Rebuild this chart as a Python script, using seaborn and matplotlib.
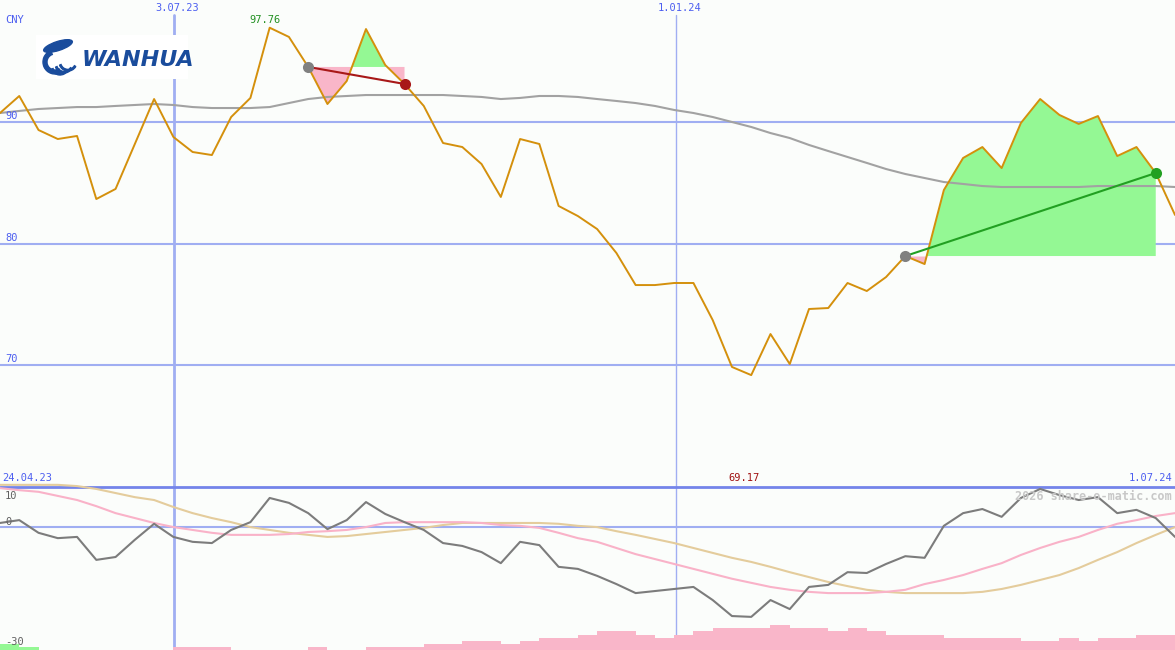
import matplotlib as mpl
mpl.use('Agg')
import matplotlib.pyplot as plt
import matplotlib.patches as mpatches
import numpy as np
import seaborn as sns

sns.set_style("white")
plt.rcParams['font.family'] = ['DejaVu Sans']

########## DATA ##########
# weekly closes, CNY
price = [90.74, 92.14, 89.34, 88.60, 88.85, 83.66, 84.49, 88.19, 91.89, 88.77,
         87.53, 87.28, 90.41, 91.98, 97.76, 97.00, 94.53, 91.48, 93.37, 97.65,
         94.69, 93.13, 91.32, 88.27, 87.94, 86.54, 83.83, 88.60, 88.19, 83.09,
         82.26, 81.19, 79.22, 76.58, 76.58, 76.75, 76.75, 73.70, 69.84, 69.17,
         72.55, 70.08, 74.61, 74.69, 76.75, 76.09, 77.24, 78.97, 78.31, 84.40,
         87.04, 87.94, 86.21, 89.92, 91.89, 90.58, 89.84, 90.49, 87.20, 87.94,
         85.80, 82.35]
# long moving average (grey)
ma_long = [90.74, 90.91, 91.07, 91.15, 91.23, 91.23, 91.32, 91.40, 91.48, 91.40,
           91.23, 91.15, 91.15, 91.15, 91.23, 91.56, 91.89, 92.06, 92.14, 92.22,
           92.22, 92.22, 92.22, 92.22, 92.14, 92.06, 91.89, 91.98, 92.14, 92.14,
           92.06, 91.89, 91.73, 91.56, 91.32, 90.99, 90.74, 90.41, 90.00, 89.59,
           89.09, 88.68, 88.11, 87.61, 87.12, 86.63, 86.13, 85.72, 85.39, 85.06,
           84.90, 84.73, 84.65, 84.65, 84.65, 84.65, 84.65, 84.73, 84.73, 84.73,
           84.73, 84.65]
# lower panel: relative strength (dark grey), and two smoothings
rel_strength = [1.1, 1.8, -1.3, -2.6, -2.3, -7.9, -7.2, -3.0, 0.9, -2.3,
                -3.5, -3.8, -0.6, 1.3, 7.2, 6.0, 3.5, -0.4, 1.8, 6.2,
                3.3, 1.3, -0.6, -3.8, -4.5, -6.0, -8.7, -3.5, -4.3, -9.6,
                -10.1, -11.8, -13.8, -16.0, -15.5, -15.0, -14.5, -17.7, -21.6, -21.8,
                -17.7, -19.9, -14.5, -14.0, -10.9, -11.1, -8.9, -7.0, -7.4, 0.4,
                3.5, 4.5, 2.6, 7.2, 9.4, 7.9, 6.7, 7.4, 3.5, 4.3,
                2.3, -2.3]
rs_fast = [9.6, 9.1, 8.7, 7.7, 6.7, 5.2, 3.5, 2.3, 1.1, 0.1,
           -0.6, -1.3, -1.8, -1.8, -1.8, -1.6, -1.1, -0.9, -0.6, 0.1,
           1.1, 1.3, 1.3, 1.3, 1.3, 1.1, 0.6, 0.4, -0.1, -1.3,
           -2.6, -3.5, -5.0, -6.5, -7.7, -8.9, -10.1, -11.3, -12.5, -13.5,
           -14.5, -15.2, -15.7, -16.0, -16.0, -16.0, -15.7, -15.2, -13.8, -12.8,
           -11.6, -10.1, -8.7, -6.7, -5.0, -3.5, -2.3, -0.6, 0.9, 1.8,
           2.8, 3.5]
rs_slow = [10.4, 10.4, 10.4, 10.4, 10.1, 9.4, 8.4, 7.4, 6.7, 5.0,
           3.5, 2.3, 1.3, 0.1, -0.6, -1.3, -1.8, -2.3, -2.1, -1.6,
           -1.1, -0.6, -0.1, 0.6, 1.1, 1.1, 1.1, 1.1, 1.1, 0.9,
           0.4, 0.1, -0.9, -1.8, -2.8, -3.8, -5.0, -6.2, -7.4, -8.4,
           -9.6, -10.9, -12.1, -13.3, -14.3, -15.2, -15.7, -16.0, -16.0, -16.0,
           -16.0, -15.7, -15.0, -14.0, -12.8, -11.6, -9.9, -7.9, -6.0, -3.8,
           -1.8, 0.1]
# bottom histogram: positive = green, negative = pink
hist = [2, 1, 0, 0, 0, 0, 0, 0, 0, -1,
        -1, -1, 0, 0, 0, 0, -1, 0, 0, -1,
        -1, -1, -2, -2, -3, -3, -2, -3, -4, -4,
        -5, -6, -6, -5, -4, -5, -6, -7, -7, -7,
        -8, -7, -7, -6, -7, -6, -5, -5, -5, -4,
        -4, -4, -4, -3, -3, -4, -3, -4, -4, -5,
        -5]
trades = [(16, 21), (47, 60)]          # (entry week, exit week)
price_grid = [90, 80, 70]
date_marks = [(9.04, '3.07.23', 2.0), (35.1, '1.01.24', 1.0)]
range_labels = ('24.04.23', '1.07.24')
osc_labels = [('10', 496), ('0', 522), ('-30', 642)]

########## STYLE ##########
BG = '#fbfdfb'
BLUE = '#a0aef2'
BLUE_TXT = '#4c5ef0'
ORANGE = '#d4900c'
GREEN_FILL = '#94f894'
PINK_FILL = '#f9b6c9'
W, H = 1175, 650

weeks = np.arange(len(price))
price = np.array(price)

fig = plt.figure(figsize=(W / 100, H / 100), dpi=100, facecolor=BG)
ax = fig.add_axes([0, 1 - 483 / H, 1, 483 / H])
axb = fig.add_axes([0, 0, 1, 167 / H])
for a in (ax, axb):
    a.set_facecolor(BG)
    a.set_xlim(0, len(price) - 1)
    a.set_axis_off()
ax.set_ylim(60.29, 100.04)
axb.set_ylim(-29.88, 10.85)

# grid
for g in price_grid:
    ax.axhline(g, color=BLUE, lw=1.5, zorder=1)
for xm, lab, lw in date_marks:
    ax.axvline(xm, ymax=1 - 15 / 483, color=BLUE, lw=lw, zorder=1)
    axb.axvline(xm, color=BLUE, lw=lw, zorder=1)

# trades
for i0, i1 in trades:
    xs = weeks[i0:i1 + 1]
    ys = price[i0:i1 + 1]
    lvl = price[i0]
    ax.fill_between(xs, ys, lvl, where=ys >= lvl, interpolate=True,
                    color=GREEN_FILL, lw=0, zorder=2)
    ax.fill_between(xs, ys, lvl, where=ys <= lvl, interpolate=True,
                    color=PINK_FILL, lw=0, zorder=2)

sns.lineplot(x=weeks, y=ma_long, ax=ax, color='#a2a2a2', lw=1.5, zorder=3)
sns.lineplot(x=weeks, y=price, ax=ax, color=ORANGE, lw=1.4, zorder=4)

for i0, i1 in trades:
    win = price[i1] > price[i0]
    col = '#22a022' if win else '#a81818'
    ax.plot([i0, i1], [price[i0], price[i1]], color=col, lw=1.5, zorder=5)
    ax.plot(i0, price[i0], 'o', color='#808080', ms=8, mec='none', zorder=6)
    ax.plot(i1, price[i1], 'o', color=col, ms=8, mec='none', zorder=6)

# lower panel
axb.axhline(0, color=BLUE, lw=1.5, zorder=1)
axb.axhline(9.76, color='#7484ea', lw=2, zorder=1)
axh = axb.twinx()
axh.set_axis_off()
axh.set_ylim(0, 54)
hist = np.array(hist)
axh.bar(weeks[:len(hist)], np.abs(hist), width=1.0, align='edge', lw=0,
        color=[GREEN_FILL if h > 0 else PINK_FILL for h in hist])
sns.lineplot(x=weeks, y=rs_slow, ax=axb, color='#e4cc9c', lw=1.5, zorder=3)
sns.lineplot(x=weeks, y=rs_fast, ax=axb, color='#f9b2c8', lw=1.5, zorder=3)
sns.lineplot(x=weeks, y=rel_strength, ax=axb, color='#7c7c7c', lw=1.5, zorder=4)


def ftext(x, y, s, **kw):
    fig.text(x / W, 1 - y / H, s, va='center', family='DejaVu Sans Mono', **kw)


ftext(5, 20, 'CNY', color=BLUE_TXT, fontsize=7.5)
for g in price_grid:
    yy = (100.04 - g) / (100.04 - 60.29) * 483 - 6
    ftext(5, yy, str(g), color=BLUE_TXT, fontsize=7.5)
for xm, lab, lw in date_marks:
    ftext(xm / (len(price) - 1) * W + 3, 8, lab, color=BLUE_TXT, fontsize=7.5, ha='center')
imax = int(np.argmax(price))
imin = int(np.argmin(price))
ftext(imax / (len(price) - 1) * W - 5, 20, f'{price[imax]:.2f}', color='#229022',
      fontsize=7.5, ha='center')
ftext(imin / (len(price) - 1) * W - 7, 478, f'{price[imin]:.2f}', color='#a01010',
      fontsize=7.5, ha='center')
ftext(2, 478, range_labels[0], color=BLUE_TXT, fontsize=7.5)
ftext(1172, 478, range_labels[1], color=BLUE_TXT, fontsize=7.5, ha='right')
for lab, yy in osc_labels:
    ftext(5, yy, lab, color='#606060', fontsize=7.5)
ftext(1172, 496, '2026 share-o-matic.com', color='#c8c8c8', fontsize=8.5,
      ha='right', weight='bold')

# logo
fig.patches.append(mpatches.Rectangle((36, H - 79), 152, 44, transform=None,
                                      facecolor='white', lw=0, zorder=5))
LOGO = '#1a4c9c'
# leaf on top
fig.patches.append(mpatches.Ellipse((58, H - 46), 30, 9, angle=18, transform=None,
                                    color=LOGO, zorder=6))
# swoosh rings below
fig.patches.append(mpatches.Wedge((55, H - 62), 12, 110, 300, width=4,
                                  transform=None, color=LOGO, zorder=6))
for cx, cy, r in [(60, 66, 9), (64, 64, 9), (68, 62, 9)]:
    fig.patches.append(mpatches.Wedge((cx, H - cy), r, 200, 330, width=1.6,
                                      transform=None, color=LOGO, zorder=6))
fig.text(82 / W, 1 - 60 / H, 'WANHUA', color=LOGO, fontsize=16, weight='bold',
         style='italic', va='center', zorder=7)

fig.savefig('out.png', dpi=100, facecolor=BG)
